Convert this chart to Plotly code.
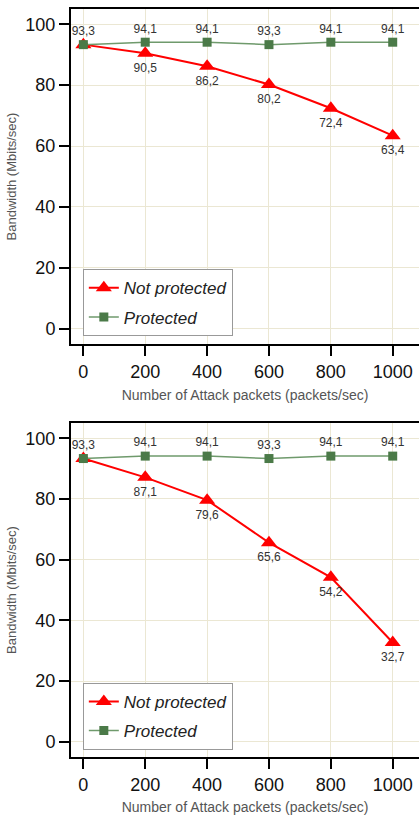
import plotly.graph_objects as go
from plotly.subplots import make_subplots

attack_packets = [0, 200, 400, 600, 800, 1000]
x_ticks = [0, 200, 400, 600, 800, 1000]
y_ticks = [0, 20, 40, 60, 80, 100]

top_not_protected = [93.3, 90.5, 86.2, 80.2, 72.4, 63.4]
top_protected = [93.3, 94.1, 94.1, 93.3, 94.1, 94.1]

bottom_not_protected = [93.3, 87.1, 79.6, 65.6, 54.2, 32.7]
bottom_protected = [93.3, 94.1, 94.1, 93.3, 94.1, 94.1]


def fmt(v):
    return f"{v:.1f}".replace(".", ",")


def np_labels(vals):
    return [""] + [fmt(v) for v in vals[1:]]


RED = "#ff0000"
GREEN_M = "#4b7a48"
GREEN_L = "#6f9a6c"
GRID = "#ebe7d3"
FONT = "Liberation Sans, Arial, sans-serif"

fig = make_subplots(rows=2, cols=1)

for row, (npv, pv, leg) in enumerate(
    [(top_not_protected, top_protected, "legend"),
     (bottom_not_protected, bottom_protected, "legend2")], start=1):
    fig.add_trace(go.Scatter(
        x=attack_packets, y=npv, name="Not protected",
        mode="lines+markers+text",
        line=dict(color=RED, width=2),
        marker=dict(symbol="triangle-up", size=14, color=RED),
        text=np_labels(npv), textposition="bottom center",
        textfont=dict(size=12, color="#333333", family=FONT),
        legend=leg, legendgroup="np%d" % row,
    ), row=row, col=1)
    fig.add_trace(go.Scatter(
        x=attack_packets, y=pv, name="Protected",
        mode="lines+markers+text",
        line=dict(color=GREEN_L, width=1.5),
        marker=dict(symbol="square", size=9, color=GREEN_M),
        text=[fmt(v) for v in pv], textposition="top center",
        textfont=dict(size=12, color="#333333", family=FONT),
        legend=leg, legendgroup="p%d" % row,
    ), row=row, col=1)

axis_common = dict(
    showline=True, linecolor="#000000", linewidth=2,
    ticks="outside", ticklen=10, tickwidth=1.5, tickcolor="#000000",
    showgrid=True, gridcolor=GRID, gridwidth=1,
    zeroline=False,
    tickfont=dict(size=18, color="#111111", family=FONT),
)

for r in (1, 2):
    fig.update_xaxes(
        range=[-40, 1085], tickvals=x_ticks, mirror=True,
        title=dict(text="Number of Attack packets (packets/sec)",
                   font=dict(size=14, color="#555555", family=FONT), standoff=10),
        row=r, col=1, **axis_common)
    fig.update_yaxes(
        range=[-5, 105], tickvals=y_ticks,
        title=dict(text="Bandwidth (Mbits/sec)",
                   font=dict(size=13, color="#555555", family=FONT), standoff=6),
        row=r, col=1, **axis_common)

legend_common = dict(
    xanchor="left", yanchor="top", bgcolor="white",
    bordercolor="#999999", borderwidth=1, itemwidth=30, tracegroupgap=4,
    font=dict(size=17, style="italic", color="#222222", family=FONT),
)

fig.update_layout(
    yaxis=dict(domain=[0.5521, 1.0]),
    yaxis2=dict(domain=[0.0, 0.4465]),
    width=419, height=815,
    margin=dict(l=71, r=0, t=9, b=58),
    plot_bgcolor="white", paper_bgcolor="white",
    font=dict(family=FONT),
    legend=dict(x=0.034, y=0.652, **legend_common),
    legend2=dict(x=0.034, y=0.099, **legend_common),
)

fig.write_html(
    "out.html",
    config={"displayModeBar": False},
    post_script="document.body.style.margin='0';document.body.style.overflow='hidden';",
)
